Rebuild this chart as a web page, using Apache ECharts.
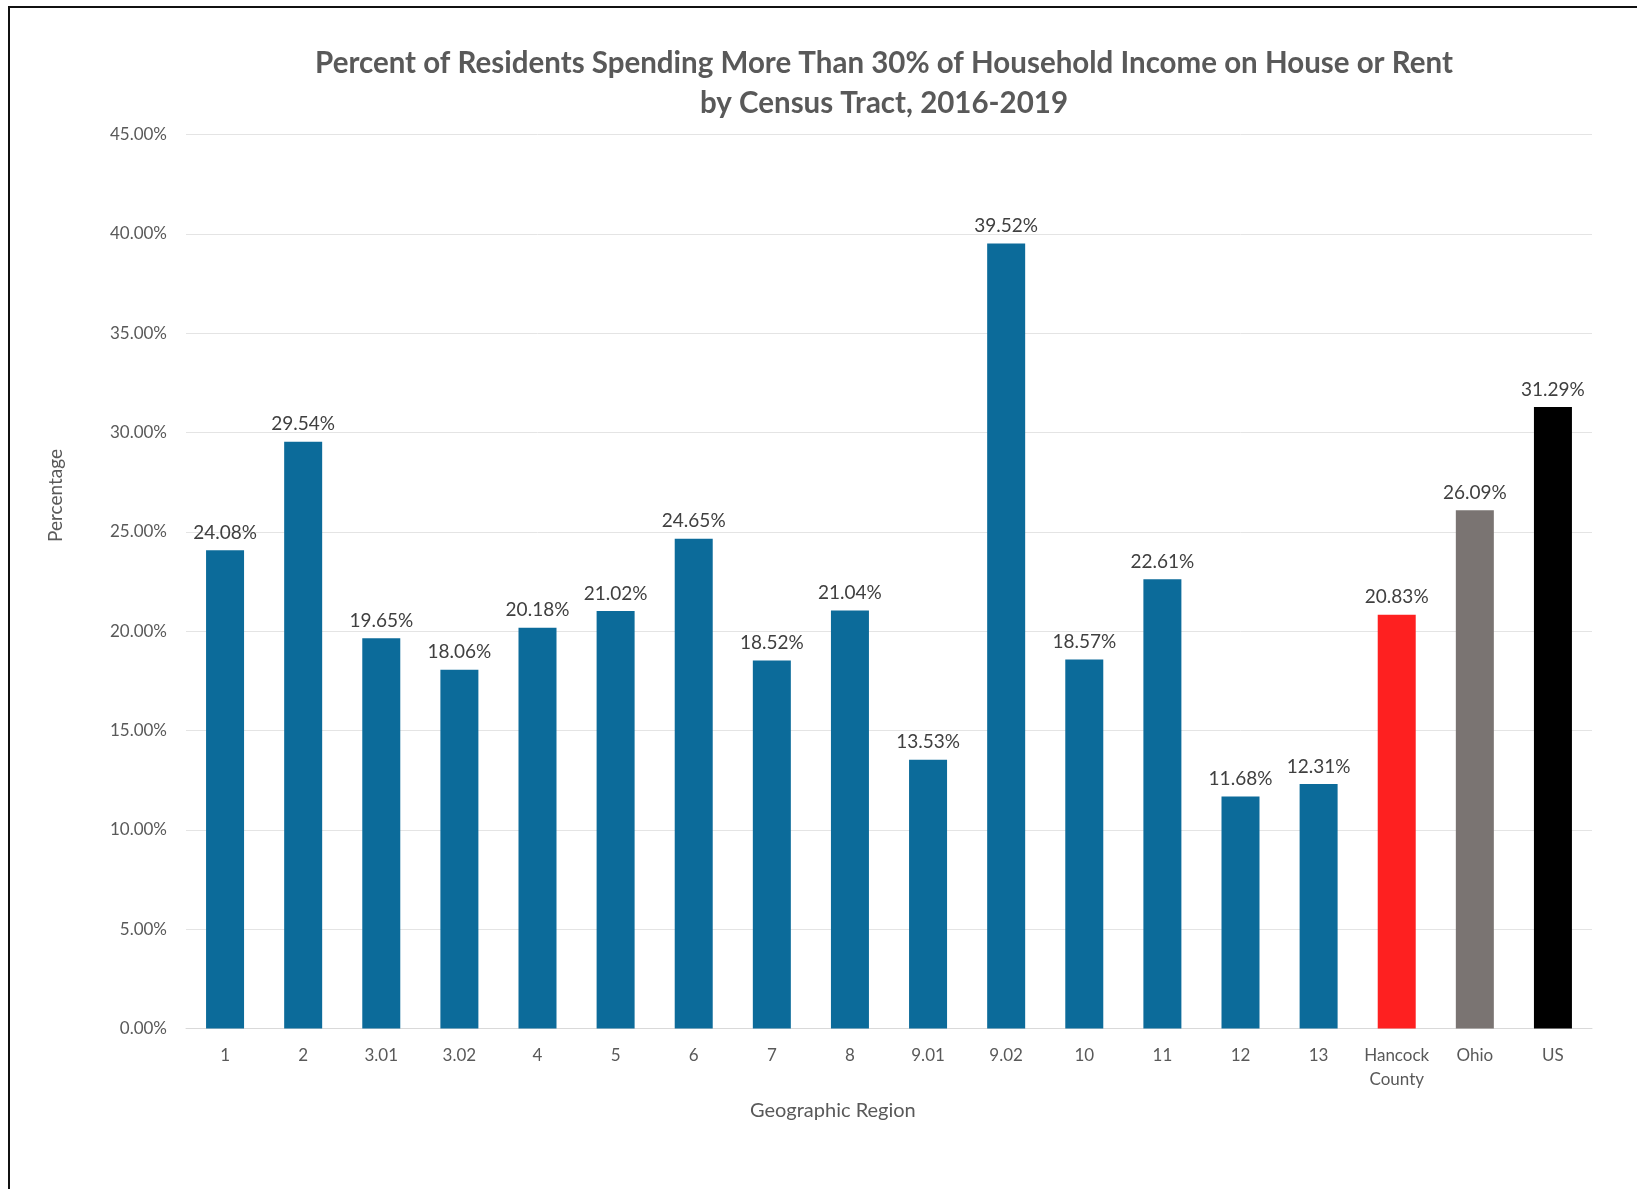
<!DOCTYPE html>
<html>
<head>
<meta charset="utf-8">
<script src="https://cdn.jsdelivr.net/npm/echarts@6/dist/echarts.min.js"></script>
<style>
html,body{margin:0;padding:0;background:#fff;}
#chart{width:1637px;height:1189px;}
#frame{position:absolute;left:8px;top:6px;width:1640px;height:1200px;border-left:2px solid #111;border-top:2px solid #111;pointer-events:none;}
</style>
</head>
<body>
<div id="chart"></div>
<div id="frame"></div>
<script>
const categories = ['1','2','3.01','3.02','4','5','6','7','8','9.01','9.02','10','11','12','13','Hancock\nCounty','Ohio','US'];
const values = [24.08,29.54,19.65,18.06,20.18,21.02,24.65,18.52,21.04,13.53,39.52,18.57,22.61,11.68,12.31,20.83,26.09,31.29];
const barColors = ['#0c6b9a','#0c6b9a','#0c6b9a','#0c6b9a','#0c6b9a','#0c6b9a','#0c6b9a','#0c6b9a','#0c6b9a','#0c6b9a','#0c6b9a','#0c6b9a','#0c6b9a','#0c6b9a','#0c6b9a','#fe2020','#7a7472','#000000'];
const yTicks = [0,5,10,15,20,25,30,35,40,45];

const font = 'Lato, "Open Sans", sans-serif';
const chart = echarts.init(document.getElementById('chart'), null, {renderer:'canvas'});
chart.setOption({
  backgroundColor:'#ffffff',
  animation:false,
  title:{
    text:'Percent of Residents Spending More Than 30% of Household Income on House or Rent\nby Census Tract, 2016-2019',
    left:879, top:38, textAlign:'center',
    textStyle:{fontFamily:font,fontWeight:'bold',fontSize:29.5,color:'#595959',lineHeight:40}
  },
  grid:{left:186,right:45,top:134.7,bottom:160.6,containLabel:false},
  xAxis:{
    type:'category',
    data:categories,
    axisLine:{show:true,lineStyle:{color:'#d9d9d9',width:1}},
    axisTick:{show:false},
    axisLabel:{fontFamily:font,fontSize:17,color:'#595959',margin:15,lineHeight:24,interval:0}
  },
  yAxis:{
    type:'value',
    min:yTicks[0], max:yTicks[yTicks.length-1], interval:5,
    axisLine:{show:false},
    axisTick:{show:false},
    splitLine:{lineStyle:{color:'#e4e4e4',width:1}},
    axisLabel:{fontFamily:font,fontSize:17,color:'#595959',margin:19,
      formatter:v=>v.toFixed(2)+'%'}
  },
  series:[{
    type:'bar',
    barWidth:38,
    data:values.map((v,i)=>({value:v,itemStyle:{color:barColors[i]}})),
    label:{show:true,position:'top',distance:8,fontFamily:font,fontSize:19,color:'#404040',
      formatter:p=>p.value.toFixed(2)+'%'}
  }],
  graphic:[
    {type:'text',left:46,top:449,rotation:Math.PI/2,style:{text:'Percentage',font:'19px '+font,fill:'#595959'}},
    {type:'text',left:750,top:1101,style:{text:'Geographic Region',font:'20px '+font,fill:'#595959'}}
  ]
});
</script>
</body>
</html>
